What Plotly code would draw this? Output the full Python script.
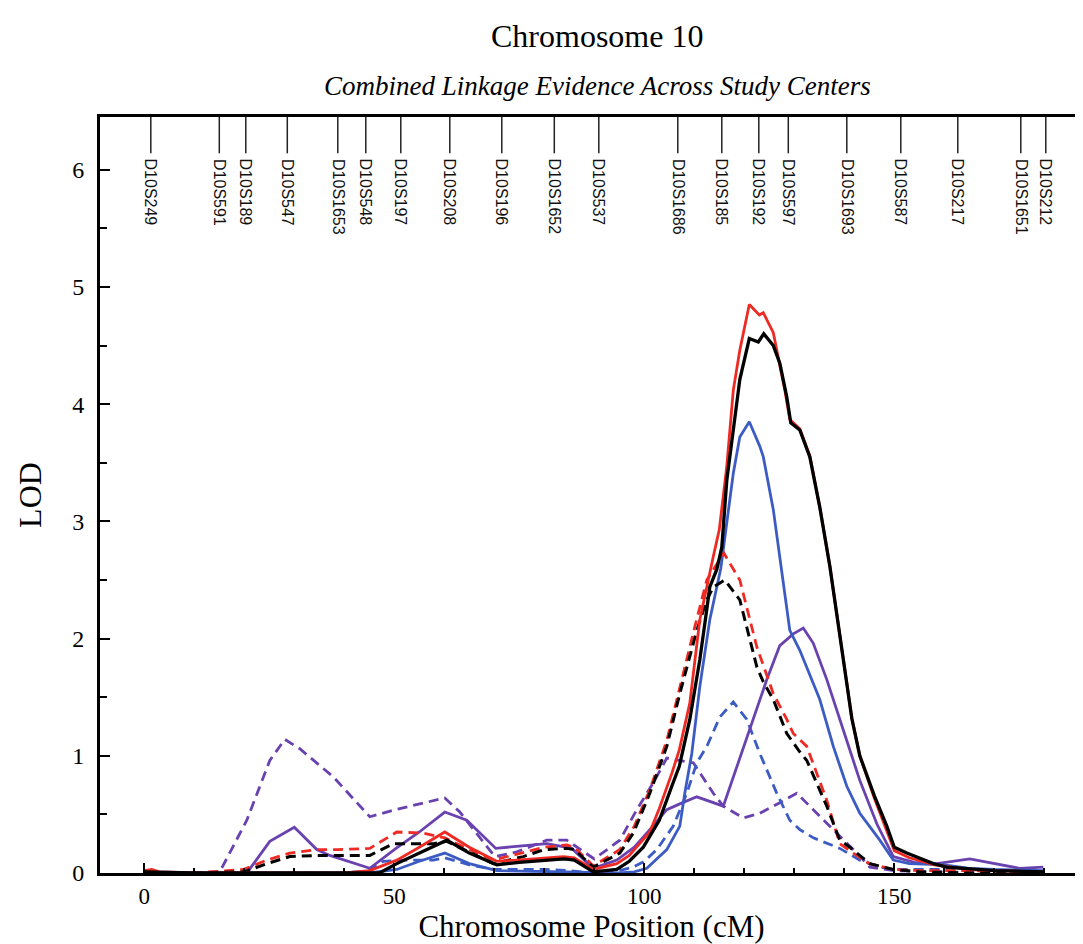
import plotly.graph_objects as go

# ---------------- data ----------------
marker_names = ["D10S249", "D10S591", "D10S189", "D10S547", "D10S1653", "D10S548", "D10S197",
                "D10S208", "D10S196", "D10S1652", "D10S537", "D10S1686", "D10S185", "D10S192",
                "D10S597", "D10S1693", "D10S587", "D10S217", "D10S1651", "D10S212"]
marker_pos = [1.3, 15.0, 20.3, 28.6, 38.7, 44.3, 51.3, 61.1, 71.5, 82.0, 90.9, 106.7, 115.5,
              122.9, 128.8, 140.5, 151.3, 162.7, 175.3, 180.3]

purple_dash_x = [0, 10, 15.1, 20.5, 25.1, 28.1, 31.1, 37.8, 45.1, 51.1, 60.1, 63.1, 70.1, 74.5,
                 80.5, 84.5, 90, 95.1, 98.5, 101.8, 104.5, 107.1, 109.8, 113.8, 115.8, 119.8,
                 123.1, 127.1, 130.5, 133.8, 138.5, 142.5, 145.1, 150, 160, 170, 180]
purple_dash_y = [0, 0, 0.01, 0.45, 0.96, 1.14, 1.06, 0.82, 0.48, 0.55, 0.64, 0.52, 0.14, 0.18,
                 0.28, 0.28, 0.12, 0.28, 0.54, 0.77, 0.98, 0.96, 0.94, 0.68, 0.57, 0.47,
                 0.51, 0.60, 0.68, 0.54, 0.34, 0.17, 0.05, 0.02, 0.01, 0.0, 0.0]

blue_dash_x = [0, 20, 40, 45, 47.8, 52, 57.8, 60.1, 65, 70, 80, 85, 89.8, 95, 97.8, 100, 102.5,
               105.8, 108.5, 110.5, 112.5, 115.1, 117.8, 120.5, 123.1, 126.5, 129.1, 131.1,
               133.8, 139.1, 143.1, 147.1, 150, 160, 170, 180]
blue_dash_y = [0, 0, 0, 0.02, 0.10, 0.11, 0.11, 0.13, 0.07, 0.03, 0.03, 0.02, 0.0, 0.02, 0.05,
               0.10, 0.20, 0.40, 0.68, 0.94, 1.08, 1.33, 1.46, 1.31, 1.02, 0.68, 0.45, 0.37,
               0.30, 0.21, 0.11, 0.05, 0.03, 0.03, 0.02, 0.01]

purple_x = [0, 15, 20.5, 25.1, 30.0, 34.5, 37.1, 45.1, 50, 55, 60.1, 64.5, 70.3, 75, 80.5, 85.5,
            89.8, 94.5, 98, 101.1, 104.5, 107.1, 110.5, 115.8, 120.5, 124.5, 127.1, 129.8,
            131.8, 133.8, 136.5, 139.8, 143.1, 146.5, 149.8, 154, 158.5, 165.1, 169.8, 175.1, 179.8]
purple_y = [0, 0, 0.0, 0.27, 0.39, 0.20, 0.15, 0.04, 0.20, 0.35, 0.52, 0.45, 0.21, 0.23, 0.25, 0.21,
            0.04, 0.11, 0.22, 0.37, 0.54, 0.59, 0.65, 0.57, 1.16, 1.65, 1.94, 2.04,
            2.09, 1.96, 1.65, 1.22, 0.79, 0.42, 0.14, 0.09, 0.08, 0.12, 0.085, 0.04, 0.05]

blue_x = [0, 20, 40, 45, 50.5, 55, 60.1, 65, 70.5, 80, 89.8, 95, 98, 100.5, 104.5, 107.1, 108.1,
          109.5, 111.1, 113.1, 115.3, 116.5, 117.8, 119.1, 121.0, 123.1, 123.8, 125.8, 127.8,
          129.1, 131.1, 133.0, 135.1, 137.8, 140.5, 143.1, 147.1, 149.8, 153, 160, 165, 170, 180]
blue_y = [0, 0, 0, 0, 0.03, 0.10, 0.17, 0.08, 0.02, 0.01, 0.0, 0.0, 0.01, 0.04, 0.20, 0.40, 0.68,
          1.02, 1.59, 2.16, 2.60, 2.97, 3.41, 3.72, 3.85, 3.64, 3.55, 3.10, 2.45,
          2.07, 1.90, 1.70, 1.48, 1.08, 0.74, 0.51, 0.28, 0.11, 0.08, 0.07, 0.04, 0.03, 0.02]

red_dash_x = [0, 10, 19.8, 24.5, 29.1, 34.5, 38.7, 45.1, 50.5, 55.8, 60.1, 65, 69.8, 75.1, 80,
              84.5, 86, 89.8, 95.1, 98, 101.1, 104.5, 107.1, 109.8, 112.5, 115.9, 119.1, 122.5,
              125.8, 128.5, 129.8, 132.5, 136.5, 139.1, 141.8, 145, 150, 155, 165, 175, 180]
red_dash_y = [0.0, 0.0, 0.03, 0.11, 0.17, 0.20, 0.20, 0.21, 0.35, 0.34, 0.30, 0.20, 0.11, 0.17, 0.22,
              0.24, 0.22, 0.06, 0.20, 0.40, 0.71, 1.13, 1.59, 2.05, 2.50, 2.73, 2.50, 1.93,
              1.53, 1.31, 1.19, 1.08, 0.62, 0.25, 0.17, 0.08, 0.03, 0.02, 0.02, 0.01, 0.0]

black_dash_x = [0, 10, 20, 24.5, 29.1, 34.5, 38.7, 45.1, 49.8, 55, 57.8, 60.5, 65, 69.8, 75.8, 80,
                84.5, 86, 89.8, 95.1, 97.8, 101.1, 104.5, 107.1, 110.5, 112.5, 113.8, 116.1, 119.1,
                122.5, 123.8, 125.8, 128.5, 130.8, 132.5, 136.5, 139.1, 141.1, 145.1, 149.8, 155,
                165, 180]
black_dash_y = [0.0, 0.0, 0.01, 0.08, 0.14, 0.15, 0.15, 0.15, 0.25, 0.25, 0.25, 0.27, 0.18, 0.08,
                0.14, 0.20, 0.21, 0.20, 0.05, 0.17, 0.34, 0.68, 1.08, 1.53, 2.07, 2.33, 2.44, 2.50,
                2.33, 1.76, 1.63, 1.48, 1.19, 1.05, 0.96, 0.57, 0.28, 0.22, 0.08, 0.03, 0.01,
                0.0, 0.0]

red_x = [0, 1.5, 3, 10, 20, 30, 40, 45.1, 50.5, 55, 60.1, 65, 70.5, 74.5, 80, 83.8, 86, 89.8, 94.5,
         97, 101.1, 103, 105.5, 107, 109.1, 111.1, 113.8, 115, 116.5, 117.8, 119.1, 121.0, 123.0,
         123.8, 125.8, 128.1, 129.1, 131.1, 133.1, 135.1, 137.1, 139.1, 140.5, 141.5, 143.1,
         146, 148.3, 150, 153, 158, 165, 170, 180]
red_y = [0.02, 0.03, 0.01, 0.0, 0.0, 0.0, 0.0, 0.02, 0.11, 0.22, 0.35, 0.22, 0.10, 0.11, 0.13, 0.14,
         0.13, 0.03, 0.08, 0.15, 0.35, 0.55, 0.85, 1.05, 1.45, 2.16, 2.70, 2.93, 3.47, 4.12, 4.46,
         4.85, 4.76, 4.78, 4.61, 4.12, 3.87, 3.79, 3.56, 3.12, 2.62, 2.05, 1.62, 1.32, 1.0,
         0.64, 0.38, 0.19, 0.13, 0.07, 0.03, 0.02, 0.01]

black_x = [0, 10, 20, 30, 40, 47, 50.5, 55, 60.5, 65, 70.5, 75, 80, 84, 86, 89.8, 94.5, 97, 99.8,
           103, 105.5, 107, 109.1, 111.1, 112.5, 113.1, 114.5, 115.5, 116.5, 117.8, 119.1, 121.0,
           122.8, 123.9, 125.8, 127.1, 128.5, 129.3, 131.1, 133.1, 135.1, 137.1, 139.1, 140.5,
           141.5, 143.1, 146, 148.5, 150, 152.5, 157.8, 160.5, 166.5, 170, 180]
black_y = [0.01, 0.0, 0.0, 0.0, 0.0, 0.0, 0.08, 0.17, 0.28, 0.17, 0.07, 0.09, 0.11, 0.12, 0.11,
           0.01, 0.03, 0.10, 0.22, 0.45, 0.74, 0.91, 1.31, 1.82, 2.25, 2.44, 2.59, 2.78, 3.35,
           3.78, 4.21, 4.56, 4.53, 4.60, 4.50, 4.35, 4.06, 3.84, 3.78, 3.55, 3.12, 2.62, 2.05,
           1.62, 1.32, 1.0, 0.66, 0.40, 0.22, 0.17, 0.08, 0.05, 0.03, 0.02, 0.01]

# ---------------- style ----------------
RED = "#ee2a24"
BLUE = "#3c5cc4"
PURPLE = "#6a42b0"
BLACK = "#000000"
DASH = "10px,6px"
SERIF = "Liberation Serif, Times New Roman, serif"
SANS = "Liberation Sans, Arial, sans-serif"

Y_TOP = 6.45
X_MIN, X_MAX = -8.86, 187.74

# page body has an 8px margin: size the figure so it fits the 1083x944 window
W, H = 1075, 936
L, R, T, B = 92, 0, 109, 71
OFF = 8
pw, ph = W - L - R, H - T - B

fig = go.Figure()

series = [
    (purple_dash_x, purple_dash_y, PURPLE, DASH, 2.8),
    (blue_dash_x, blue_dash_y, BLUE, DASH, 2.8),
    (purple_x, purple_y, PURPLE, "solid", 2.8),
    (blue_x, blue_y, BLUE, "solid", 2.8),
    (red_dash_x, red_dash_y, RED, DASH, 2.8),
    (black_dash_x, black_dash_y, BLACK, DASH, 3.0),
    (red_x, red_y, RED, "solid", 2.8),
    (black_x, black_y, BLACK, "solid", 3.3),
]
for xs, ys, col, dash, w in series:
    fig.add_trace(go.Scatter(x=xs, y=ys, mode="lines",
                             line=dict(color=col, width=w, dash=dash),
                             showlegend=False, hoverinfo="skip"))

# marker tick lines at the top
mx, my = [], []
for p in marker_pos:
    mx += [p, p, None]
    my += [Y_TOP, 6.14, None]
fig.add_trace(go.Scatter(x=mx, y=my, mode="lines", line=dict(color="#222222", width=1.5),
                         showlegend=False, hoverinfo="skip", cliponaxis=False))

annotations = []
for name, p in zip(marker_names, marker_pos):
    annotations.append(dict(x=p, y=6.11, xref="x", yref="y", text=name, textangle=90,
                            showarrow=False, xanchor="center", yanchor="top",
                            font=dict(family=SANS, size=16, color="#111111")))


def px_to_paper(vx, vy):
    return (vx - OFF - L) / pw, 1 - (vy - OFF - T) / ph


tx, ty = px_to_paper(597, 36)
annotations.append(dict(x=tx, y=ty, xref="paper", yref="paper", text="Chromosome 10",
                        showarrow=False, xanchor="center", yanchor="middle",
                        font=dict(family=SERIF, size=32, color="black")))
sx, sy = px_to_paper(597, 86)
annotations.append(dict(x=sx, y=sy, xref="paper", yref="paper",
                        text="<i>Combined Linkage Evidence Across Study Centers</i>",
                        showarrow=False, xanchor="center", yanchor="middle",
                        font=dict(family=SERIF, size=27, color="black")))

fig.update_layout(
    width=W, height=H,
    margin=dict(l=L, r=R, t=T, b=B, autoexpand=False),
    paper_bgcolor="white", plot_bgcolor="white",
    annotations=annotations,
    xaxis=dict(range=[X_MIN, X_MAX], showgrid=False, zeroline=False,
               showline=True, linecolor="black", linewidth=3, mirror=True,
               tickvals=[0, 50, 100, 150], ticks="inside", ticklen=10, tickwidth=2,
               tickcolor="black", ticklabelstandoff=0,
               tickfont=dict(family=SERIF, size=23, color="black"),
               minor=dict(dtick=10, tick0=0, ticks="inside", ticklen=5, tickwidth=2,
                          tickcolor="black", showgrid=False),
               title=dict(text="Chromosome Position (cM)", standoff=2,
                          font=dict(family=SERIF, size=31, color="black"))),
    yaxis=dict(range=[0, Y_TOP], showgrid=False, zeroline=False,
               showline=True, linecolor="black", linewidth=3, mirror=False,
               tickvals=[0, 1, 2, 3, 4, 5, 6], ticks="inside", ticklen=10, tickwidth=2,
               tickcolor="black", ticklabelstandoff=8,
               tickfont=dict(family=SERIF, size=24, color="black"),
               minor=dict(dtick=0.5, tick0=0, ticks="inside", ticklen=7, tickwidth=2,
                          tickcolor="black", showgrid=False),
               title=dict(text="LOD", standoff=22,
                          font=dict(family=SERIF, size=32, color="black"))),
)

fig.write_html("out.html")
